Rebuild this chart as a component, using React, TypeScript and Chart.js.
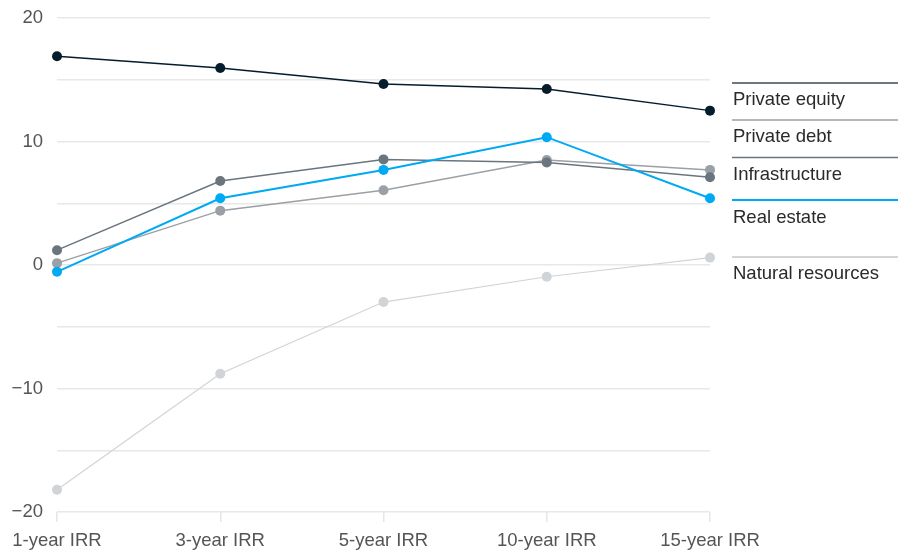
import React, { useEffect, useRef } from "react";
import { Chart, registerables } from "chart.js";

Chart.register(...registerables);

const categories = ["1-year IRR", "3-year IRR", "5-year IRR", "10-year IRR", "15-year IRR"];
const seriesNames = ["Private equity", "Private debt", "Infrastructure", "Real estate", "Natural resources"];
const privateEquity = [16.9, 15.95, 14.65, 14.25, 12.5];
const privateDebt = [0.15, 4.4, 6.05, 8.5, 7.7];
const infrastructure = [1.2, 6.8, 8.55, 8.3, 7.1];
const realEstate = [-0.55, 5.4, 7.7, 10.35, 5.4];
const naturalResources = [-18.2, -8.8, -3.0, -0.95, 0.6];
const yTicks = [-20, -10, 0, 10, 20];

const colors = ["#051c2c", "#9aa0a6", "#6b757d", "#00a9f4", "#d0d4d7"];
const legendLineColors = ["#3c4a54", "#9aa0a6", "#6b757d", "#00a9f4", "#c4c8cb"];
const legendLineY = [83, 120, 157.5, 200, 257];
const legendTextY = [105, 141.5, 180, 223, 279];

const FONT = "'Liberation Sans', Arial, sans-serif";

export default function App() {
  const ref = useRef<HTMLCanvasElement | null>(null);

  useEffect(() => {
    const canvas = ref.current;
    if (!canvas) return;
    const values = [privateEquity, privateDebt, infrastructure, realEstate, naturalResources];
    const widths = [1.5, 1.5, 1.5, 2, 1.2];

    const legendPlugin = {
      id: "sideLegend",
      afterDraw(chart: any) {
        const ctx = chart.ctx;
        ctx.save();
        seriesNames.forEach((name, i) => {
          ctx.strokeStyle = legendLineColors[i];
          ctx.lineWidth = i === 3 ? 2 : 1.5;
          ctx.beginPath();
          ctx.moveTo(732, legendLineY[i]);
          ctx.lineTo(898, legendLineY[i]);
          ctx.stroke();
          ctx.fillStyle = "#2a2a2a";
          ctx.font = `18.5px ${FONT}`;
          ctx.textAlign = "left";
          ctx.textBaseline = "alphabetic";
          ctx.fillText(name, 733, legendTextY[i]);
        });
        ctx.restore();
      },
    };

    const chart = new Chart(canvas, {
      type: "line",
      data: {
        labels: categories,
        datasets: seriesNames.map((name, i) => ({
          label: name,
          data: values[i],
          borderColor: colors[i],
          backgroundColor: colors[i],
          pointBackgroundColor: colors[i],
          pointBorderColor: colors[i],
          pointRadius: 5,
          pointBorderWidth: 0,
          borderWidth: widths[i],
          tension: 0,
          order: i === 0 ? 0 : i === 3 ? 1 : 5 - i,
        })),
      },
      options: {
        responsive: false,
        animation: false,
        maintainAspectRatio: false,
        layout: { autoPadding: false, padding: { top: 18, right: 188, left: 0, bottom: 0 } },
        plugins: {
          legend: { display: false },
          tooltip: { enabled: false },
        },
        scales: {
          x: {
            type: "category",
            offset: false,
            border: { display: false },
            grid: {
              drawOnChartArea: false,
              drawTicks: true,
              tickLength: 10,
              color: "#e6e6e6",
              lineWidth: 1.5,
            },
            ticks: {
              color: "#555555",
              font: { family: FONT, size: 18.5 },
              padding: 8,
              maxRotation: 0,
              autoSkip: false,
            },
            afterFit(scale: any) {
              scale.height = 44;
              scale.paddingLeft = 0;
              scale.paddingRight = 0;
            },
          },
          y: {
            min: -20,
            max: 20,
            border: { display: false },
            grid: {
              color: "#e8e8e8",
              lineWidth: 1.5,
              drawTicks: false,
            },
            ticks: {
              stepSize: 5,
              color: "#555555",
              font: { family: FONT, size: 18.5 },
              padding: 14,
              callback: (v: any) => {
                const n = Number(v);
                if (!yTicks.includes(n)) return "";
                return n < 0 ? "\u2212" + Math.abs(n) : String(n);
              },
            },
            afterFit(scale: any) {
              scale.width = 57;
              scale.paddingTop = 0;
              scale.paddingBottom = 0;
            },
          },
        },
      },
      plugins: [legendPlugin],
    });
    return () => chart.destroy();
  }, []);

  return (
    <div style={{ position: "absolute", left: 0, top: 0, width: 898, height: 556, background: "#fff" }}>
      <canvas ref={ref} width={898} height={556} style={{ width: 898, height: 556, display: "block" }} />
    </div>
  );
}
